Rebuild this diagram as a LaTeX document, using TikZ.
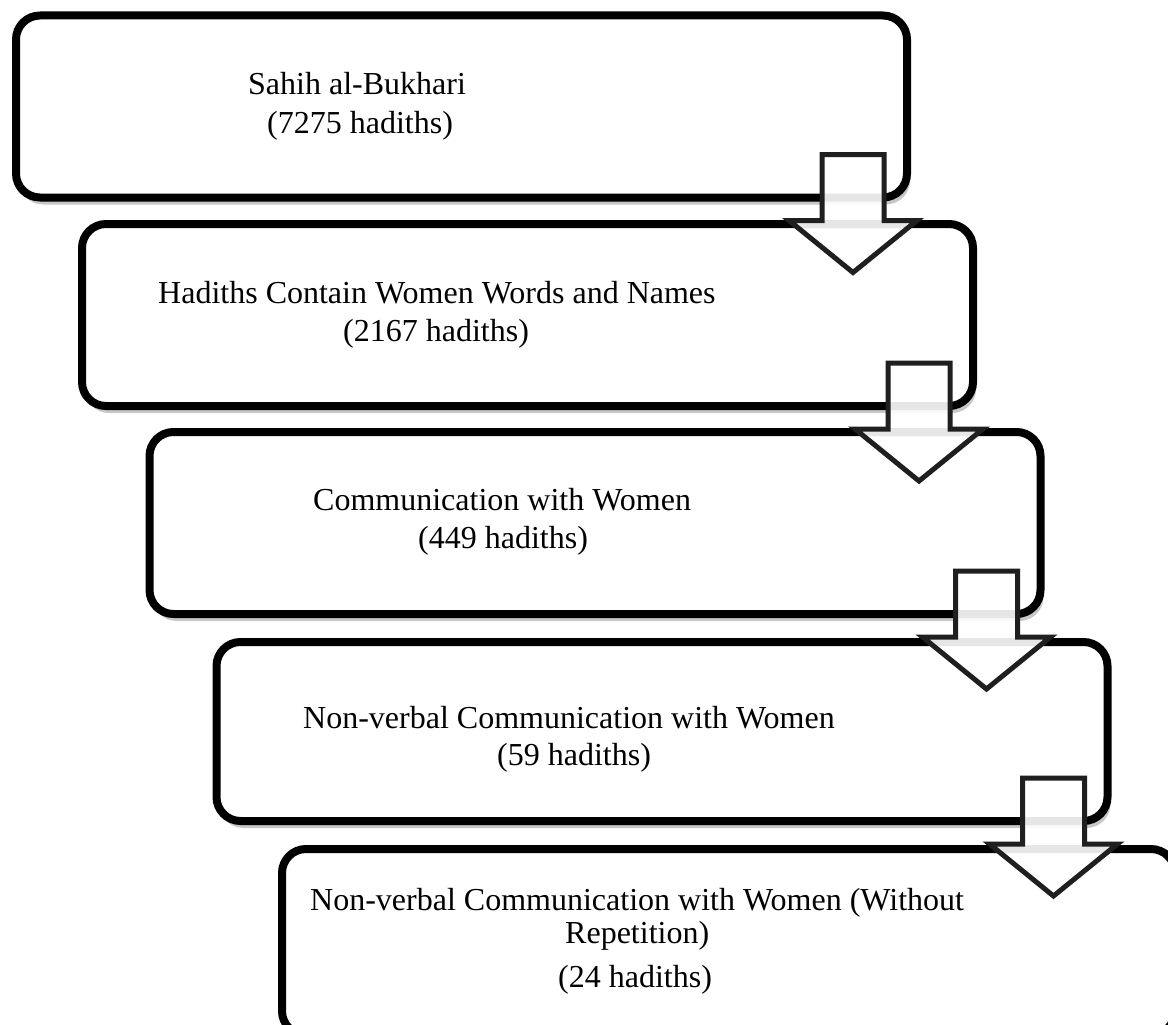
\documentclass[tikz,border=0pt]{standalone}
\usepackage{fontspec}
\setmainfont{Liberation Serif}
\usetikzlibrary{calc,shadows}
\tikzset{
  box/.style={draw=black, line width=8pt, rounded corners=24pt, fill=white,
    inner sep=0pt, minimum width=891pt, minimum height=182pt,
    drop shadow={shadow xshift=3pt, shadow yshift=-7pt, opacity=0.22, fill=black}},
  txt/.style={anchor=base west, inner sep=0pt, font=\fontsize{32}{38}\selectfont},
  blockarr/.style={draw=black!88, line width=5pt, fill=white, fill opacity=0.9, line join=miter}
}
\newcommand\downarrowfrom[1]{%
  \draw[blockarr] ($(#1.south east)+(-89,-47)$) -- ++(62,0) -- ++(0,66) -- ++(33,0)
    -- ++(-64,52) -- ++(-64,-52) -- ++(33,0) -- cycle;}
\begin{document}
\begin{tikzpicture}[x=1pt,y=-1pt]
\useasboundingbox[fill=white] (0,0) rectangle (1168,1025);
\clip (0,0) rectangle (1168,1025);
% boxes
\node[box] (b1) at (461.5,106.5) {};
\node[box] (b2) at (527.5,315) {};
\node[box] (b3) at (595,523) {};
\node[box, minimum height=179pt] (b4) at (662,731.5) {};
\node[box, minimum width=893pt, minimum height=186pt] (b5) at (728.5,942) {};
% texts
\node[txt] (t1a) at (248,95) {Sahih al-Bukhari};
\node[txt] (t1b) at (267,133) {(7275 hadiths)};
\node[txt] (t2a) at (158,303) {Hadiths Contain Women Words and Names};
\node[txt] (t2b) at (343,341) {(2167 hadiths)};
\node[txt] (t3a) at (313,510) {Communication with Women};
\node[txt] (t3b) at (418,548) {(449 hadiths)};
\node[txt] (t4a) at (303,728) {Non-verbal Communication with Women};
\node[txt] (t4b) at (497,765) {(59 hadiths)};
\node[txt] (t5a) at (310,910) {Non-verbal Communication with Women (Without};
\node[txt] (t5b) at (565,943) {Repetition)};
\node[txt] (t5c) at (558,987) {(24 hadiths)};
% block arrows
\downarrowfrom{b1}
\downarrowfrom{b2}
\downarrowfrom{b3}
\downarrowfrom{b4}
\end{tikzpicture}
\end{document}
